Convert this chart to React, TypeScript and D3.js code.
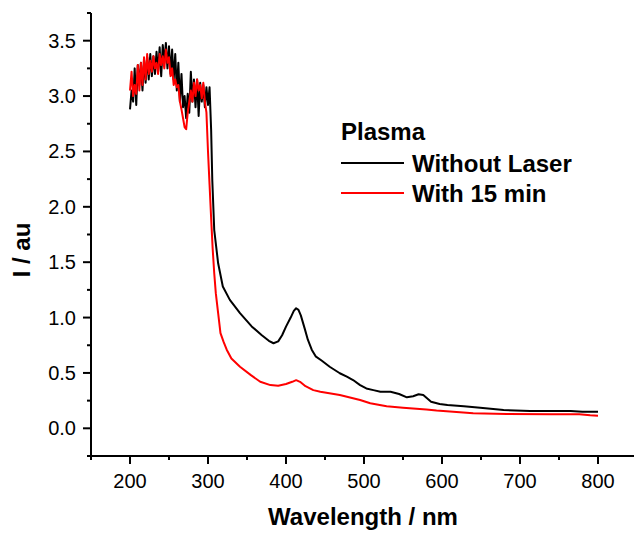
import React from "react";
import * as d3 from "d3";

const blackW = [200,202,204,206,208,210,212,214,216,218,220,222,224,226,228,230,232,234,236,238,240,242,244,246,248,250,252,254,256,258,260,262,264,266,268,270,272,274,276,278,280,282,284,286,288,290,292,294,296,298,300,302,304,305.5,308,313,319,328,341,356,369,378,384,390,395,400,406,410,413,416,419,424,428,433,438,446,456,469,478,486,495,503,512,521,534,545,555,563,570,576,586,597,607,628,649,679,713,765,780,800];
const blackV = [2.88,3.05,2.95,3.25,2.92,3.28,3.1,3.3,3.05,3.33,3.12,3.35,3.15,3.38,3.18,3.36,3.2,3.4,3.22,3.44,3.18,3.46,3.3,3.48,3.25,3.45,3.2,3.42,3.15,3.38,3.05,3.3,2.95,3.2,2.9,3.0,2.8,3.02,2.85,3.22,2.95,3.15,2.9,3.15,2.82,3.12,2.95,3.1,2.9,3.08,2.92,3.08,2.7,2.24,1.79,1.49,1.28,1.16,1.04,0.92,0.84,0.79,0.768,0.785,0.84,0.918,1.0,1.06,1.084,1.07,1.02,0.9,0.8,0.71,0.65,0.61,0.556,0.497,0.466,0.436,0.39,0.36,0.345,0.33,0.33,0.31,0.28,0.29,0.307,0.3,0.24,0.22,0.21,0.2,0.186,0.165,0.156,0.156,0.15,0.15];

const redW = [200,202,204,206,208,210,212,214,216,218,220,222,224,226,228,230,232,234,236,238,240,242,244,246,248,250,252,254,256,258,260,262,264,266,268,270,272,274,276,278,280,282,284,286,288,290,292,294,296,298,300,302,304,306,308,310,313,316,320,324,330,341,355,367,380,390,400,408,413,418,425,435,444,469,495,508,529,550,580,593,640,683,740,776,790,800];
const redV = [3.05,3.22,3.0,3.1,3.02,3.28,3.05,3.3,3.1,3.35,3.15,3.38,3.2,3.32,3.22,3.36,3.25,3.3,3.2,3.38,3.28,3.36,3.25,3.42,3.3,3.35,3.18,3.25,3.1,3.15,3.08,3.1,2.95,2.88,2.8,2.72,2.7,2.85,2.95,3.05,2.95,3.12,3.0,3.15,3.05,3.1,2.98,3.12,2.95,2.85,2.5,2.2,1.9,1.62,1.4,1.22,1.04,0.86,0.78,0.71,0.63,0.556,0.48,0.42,0.39,0.385,0.4,0.42,0.435,0.42,0.38,0.345,0.33,0.3,0.256,0.226,0.2,0.186,0.17,0.16,0.136,0.13,0.128,0.127,0.118,0.114];

const xMajor = [200,300,400,500,600,700,800];
const xMinor = [150,250,350,450,550,650,750,850];
const yMajor = [0,0.5,1,1.5,2,2.5,3,3.5];
const yMinor = [-0.25,0.25,0.75,1.25,1.75,2.25,2.75,3.25,3.75];

const legendTitle = "Plasma";
const seriesNames = ["Without Laser", "With 15 min"];
const seriesColors = ["#000000", "#ff0000"];

const FONT = "'Liberation Sans', Arial, sans-serif";

export default function App() {
  const left = 91, bottom = 456, top = 13;
  const x = d3.scaleLinear().domain([150, 850]).range([left, left + 700 * 0.78]);
  const y = d3.scaleLinear().domain([-0.25, 3.75]).range([bottom, top]);
  const line = d3.line<[number, number]>().x(d => x(d[0])).y(d => y(d[1]));
  const blackPts: [number, number][] = blackW.map((w, i) => [w, blackV[i]]);
  const redPts: [number, number][] = redW.map((w, i) => [w, redV[i]]);

  return (
    <svg width={634} height={533} style={{ position: "absolute", left: 0, top: 0, background: "#fff" }} fontFamily={FONT}>
      <path d={line(blackPts) || ""} fill="none" stroke={seriesColors[0]} strokeWidth={2} strokeLinejoin="round" />
      <path d={line(redPts) || ""} fill="none" stroke={seriesColors[1]} strokeWidth={2} strokeLinejoin="round" />

      {/* axes */}
      <line x1={left} x2={left} y1={top} y2={bottom} stroke="#000" strokeWidth={2} />
      <line x1={left} x2={634} y1={bottom} y2={bottom} stroke="#000" strokeWidth={2} />
      {xMajor.map(v => (
        <g key={"xm" + v}>
          <line x1={x(v)} x2={x(v)} y1={bottom} y2={bottom + 8} stroke="#000" strokeWidth={2} />
          <text x={x(v)} y={488} fontSize={20} textAnchor="middle">{v}</text>
        </g>
      ))}
      {xMinor.map(v => (
        <line key={"xn" + v} x1={x(v)} x2={x(v)} y1={bottom} y2={bottom + 4} stroke="#000" strokeWidth={2} />
      ))}
      {yMajor.map(v => (
        <g key={"ym" + v}>
          <line x1={left - 8} x2={left} y1={y(v)} y2={y(v)} stroke="#000" strokeWidth={2} />
          <text x={76} y={y(v) + 7} fontSize={20} textAnchor="end">{v.toFixed(1)}</text>
        </g>
      ))}
      {yMinor.map(v => (
        <line key={"yn" + v} x1={left - 4} x2={left} y1={y(v)} y2={y(v)} stroke="#000" strokeWidth={2} />
      ))}

      <text x={363} y={525} fontSize={24} fontWeight="bold" textAnchor="middle">Wavelength / nm</text>
      <text transform="translate(30,250) rotate(-90)" fontSize={24} fontWeight="bold" textAnchor="middle">I / au</text>

      {/* legend */}
      <text x={341} y={140} fontSize={24} fontWeight="bold">{legendTitle}</text>
      {seriesNames.map((n, i) => (
        <g key={n}>
          <line x1={341} x2={404} y1={163 + i * 30} y2={163 + i * 30} stroke={seriesColors[i]} strokeWidth={2} />
          <text x={412} y={172 + i * 30} fontSize={24} fontWeight="bold">{n}</text>
        </g>
      ))}
    </svg>
  );
}
